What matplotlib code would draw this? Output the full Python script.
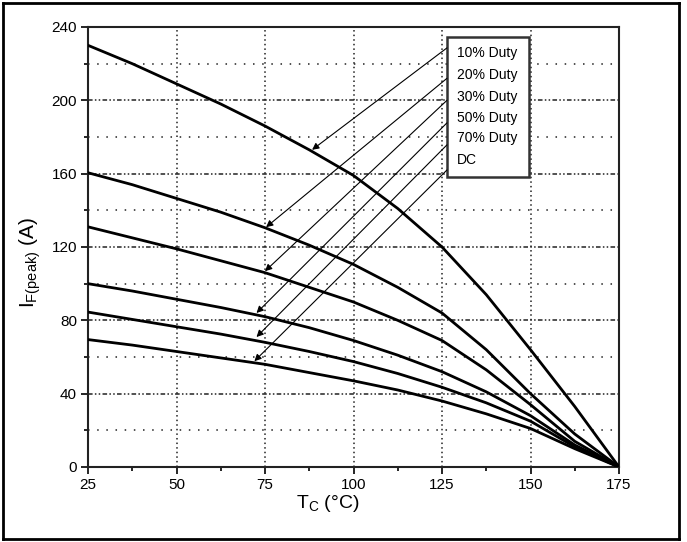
import matplotlib
matplotlib.use("Agg")
import matplotlib.pyplot as plt
from matplotlib.patches import Rectangle
from matplotlib.lines import Line2D

plt.rcParams['font.family'] = ['Liberation Sans', 'DejaVu Sans']
plt.rcParams['mathtext.fontset'] = 'custom'
plt.rcParams['mathtext.rm'] = 'Liberation Sans'
plt.rcParams['mathtext.it'] = 'Liberation Sans'

# ---- data ----
tc = [25, 37.5, 50, 62.5, 75, 87.5, 100, 112.5, 125, 137.5, 150, 162.5, 175]
duty10 = [230, 220, 209, 198, 186, 173, 159, 141, 120, 94, 64, 33, 0]
duty20 = [160.5, 154, 146.5, 139, 130.5, 121, 110.5, 98, 84, 64, 40, 18, 0]
duty30 = [131, 125, 119, 112.5, 106, 98, 90, 80, 69, 53, 34, 14, 0]
duty50 = [100, 96, 91.5, 87, 82, 76, 69, 61, 52, 41, 28, 12, 0]
duty70 = [84.5, 80.5, 76.5, 72.5, 68, 63, 57.5, 51, 43.5, 35, 25, 11, 0]
dc = [69.5, 66.5, 63, 59.5, 56, 51.5, 47, 42, 36, 29, 21, 10, 0]
series = [duty10, duty20, duty30, duty50, duty70, dc]
labels = ["10% Duty", "20% Duty", "30% Duty", "50% Duty", "70% Duty", "DC"]

# arrow tips on the curves (data coords) and arrow starts at legend edge
tip_x = [88.3, 75.3, 75.0, 72.6, 72.6, 72.0]
tip_y = [173, 130.8, 106.8, 84, 70.9, 57.7]
start_y = [228.6, 212, 200, 187.7, 175.7, 162]

xticks = [25, 50, 75, 100, 125, 150, 175]
yticks = [0, 40, 80, 120, 160, 200, 240]

fig = plt.figure(figsize=(6.87, 5.42), dpi=100)
ax = fig.add_axes([88/687, 1-467/542, (619-88)/687, (467-27)/542])

ax.set_xlim(25, 175)
ax.set_ylim(0, 240)

# grid lines
for v in [50, 75, 100, 125, 150]:
    ax.axvline(v, color='#222222', lw=1.1, ls=(0, (1, 2)), zorder=1)
for h in [40, 80, 120, 160, 200]:
    ax.axhline(h, color='#222222', lw=1.1, ls=(0, (3, 1.5, 1, 1.5, 1, 1.5)), zorder=1)
for h in [20, 60, 100, 140, 180, 220]:
    ax.axhline(h, color='#222222', lw=1.1, ls=(0, (1, 5)), zorder=1)

for s in series:
    ax.plot(tc, s, color='black', lw=2, zorder=3)

# legend box
lx0, lx1, ly0, ly1 = 126.4, 149.6, 158, 234.6
ax.add_patch(Rectangle((lx0, ly0), lx1-lx0, ly1-ly0, facecolor='white',
                       edgecolor='#333333', lw=1.8, zorder=4))
text_y = [225.9, 213.9, 201.9, 190.4, 179.5, 167.5]
for lab, ty in zip(labels, text_y):
    ax.text(129.2, ty, lab, fontsize=10, va='center', ha='left', zorder=5)

for sx_y, tx, ty in zip(start_y, tip_x, tip_y):
    ax.annotate("", xy=(tx, ty), xytext=(lx0, sx_y),
                arrowprops=dict(arrowstyle='-|>', lw=0.8, color='black',
                                mutation_scale=10, shrinkA=0, shrinkB=0),
                zorder=4)

ax.set_xticks(xticks)
ax.set_yticks(yticks)
ax.set_xticks([37.5, 62.5, 87.5, 112.5, 137.5, 162.5], minor=True)
ax.set_yticks([20, 60, 100, 140, 180, 220], minor=True)
ax.tick_params(which='major', direction='out', length=5, width=1.2,
               labelsize=11, colors='black', pad=3)
ax.tick_params(which='minor', direction='out', length=3, width=1.2)
for sp in ax.spines.values():
    sp.set_linewidth(1.5)
    sp.set_color('#222222')

fig.text(328/687, 1-503/542, r'$\mathregular{T_C\ (°C)}$', fontsize=14,
         ha='center', va='center')
fig.text(30/687, 1-262/542, r'$\mathregular{I_{F(peak)}\ (A)}$', fontsize=15,
         ha='center', va='center', rotation=90)

# outer frame
for xs, ys in [([3, 3], [3, 539]), ([3, 679], [3, 3]),
               ([679, 679], [3, 539]), ([3, 679], [539, 539])]:
    fig.add_artist(Line2D([x/687 for x in xs], [1-y/542 for y in ys],
                          color='black', lw=2))

fig.savefig("out.png", dpi=100)
